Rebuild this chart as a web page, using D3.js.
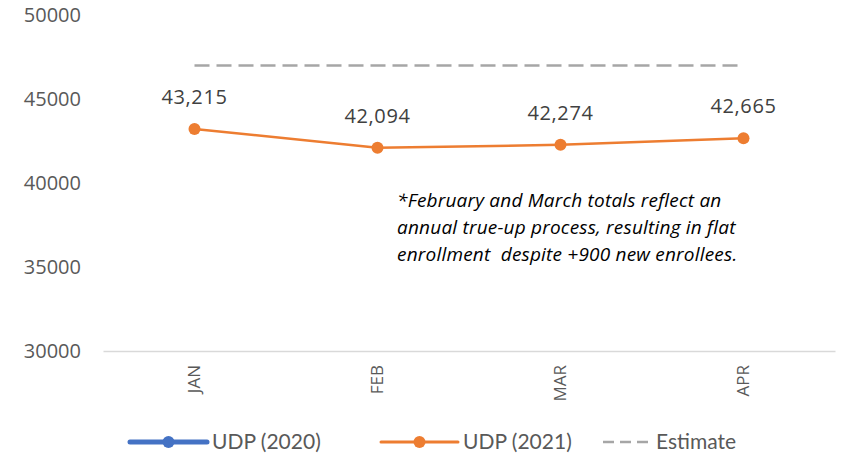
<!DOCTYPE html>
<html>
<head>
<meta charset="utf-8">
<script src="https://cdn.jsdelivr.net/npm/d3@7"></script>
<style>
  html, body { margin: 0; padding: 0; background: #fff; }
  svg { display: block; }
</style>
</head>
<body>
<svg id="chart" width="841" height="459"></svg>
<script>
// Monthly enrollment
const months = ["JAN", "FEB", "MAR", "APR"];
const udp2020 = [null, null, null, null];
const udp2021 = [43215, 42094, 42274, 42665];
const estimate = [47000, 47000, 47000, 47000];
const yTicks = [30000, 35000, 40000, 45000, 50000];
const note = [
  "*February and March totals reflect an",
  "annual true-up process, resulting in flat",
  "enrollment  despite +900 new enrollees."
];
const legendItems = [
  { name: "UDP (2020)", color: "#4472C4", width: 5, dash: null, marker: true },
  { name: "UDP (2021)", color: "#ED7D31", width: 3, dash: null, marker: true },
  { name: "Estimate", color: "#A6A6A6", width: 2.5, dash: "11,6", marker: false }
];

const svg = d3.select("#chart");
const margin = { left: 103, right: 6, top: 15, bottom: 108 };
const W = 841, H = 459;

const x = d3.scaleBand().domain(months).range([margin.left, W - margin.right]);
const y = d3.scaleLinear().domain([30000, 50000]).range([H - margin.bottom, margin.top]);
const cx = m => x(m) + x.bandwidth() / 2;

// y axis labels (no gridlines, no axis line)
const yAxis = svg.append("g")
  .attr("transform", `translate(${margin.left - 22},0)`)
  .call(d3.axisLeft(y).tickValues(yTicks).tickFormat(d3.format("d")).tickSize(0).tickPadding(0));
yAxis.select(".domain").remove();
yAxis.selectAll("text")
  .attr("font-family", "'Open Sans', sans-serif")
  .attr("font-size", 20)
  .attr("fill", "#595959");

// category axis
const xAxis = svg.append("g")
  .attr("transform", `translate(0,${y(30000)})`)
  .call(d3.axisBottom(x).tickSize(0).tickPadding(0));
xAxis.select(".domain").attr("stroke", "#D9D9D9").attr("stroke-width", 1.5);
xAxis.selectAll("text")
  .attr("font-family", "'Open Sans', sans-serif")
  .attr("font-size", 17)
  .attr("fill", "#595959")
  .attr("text-anchor", "end")
  .attr("dy", "0.35em")
  .attr("transform", "translate(0,14) rotate(-90)");

// estimate line
const line = d3.line()
  .defined(d => d.v != null)
  .x(d => cx(d.m))
  .y(d => y(d.v));

svg.append("path")
  .datum(months.map((m, i) => ({ m, v: estimate[i] })))
  .attr("d", line)
  .attr("fill", "none")
  .attr("stroke", "#A6A6A6")
  .attr("stroke-width", 2.5)
  .attr("stroke-dasharray", "15,7");

// UDP 2020 (no values yet)
const s2020 = months.map((m, i) => ({ m, v: udp2020[i] }));
svg.append("path")
  .datum(s2020)
  .attr("d", line)
  .attr("fill", "none")
  .attr("stroke", "#4472C4")
  .attr("stroke-width", 3);

// UDP 2021
const s2021 = months.map((m, i) => ({ m, v: udp2021[i] }));
svg.append("path")
  .datum(s2021)
  .attr("d", line)
  .attr("fill", "none")
  .attr("stroke", "#ED7D31")
  .attr("stroke-width", 2.5);

svg.append("g").selectAll("circle")
  .data(s2021.filter(d => d.v != null))
  .join("circle")
  .attr("cx", d => cx(d.m))
  .attr("cy", d => y(d.v))
  .attr("r", 6)
  .attr("fill", "#ED7D31");

svg.append("g").selectAll("text")
  .data(s2021.filter(d => d.v != null))
  .join("text")
  .attr("x", d => cx(d.m))
  .attr("y", d => y(d.v) - 25)
  .attr("text-anchor", "middle")
  .attr("font-family", "'Open Sans', sans-serif")
  .attr("font-size", 20)
  .attr("letter-spacing", 0.6)
  .attr("fill", "#404040")
  .text(d => d3.format(",")(d.v));

// annotation
svg.append("text")
  .attr("font-family", "'Open Sans', sans-serif")
  .attr("font-style", "italic")
  .attr("font-size", 19)
  .attr("letter-spacing", 0.2)
  .attr("fill", "#000")
  .selectAll("tspan")
  .data(note)
  .join("tspan")
  .attr("x", 397)
  .attr("y", (d, i) => 207 + i * 27)
  .style("white-space", "pre")
  .text(d => d);

// legend
const legendX = [130, 381, 603];
const lg = svg.append("g").attr("transform", `translate(0,442)`);
legendItems.forEach((it, i) => {
  const g = lg.append("g").attr("transform", `translate(${legendX[i]},0)`);
  const len = it.marker ? 77 : 48;
  g.append("line")
    .attr("x1", 0).attr("x2", len).attr("y1", 0).attr("y2", 0)
    .attr("stroke", it.color)
    .attr("stroke-width", it.width)
    .attr("stroke-linecap", it.marker ? "round" : "butt")
    .attr("stroke-dasharray", it.dash);
  if (it.marker) {
    g.append("circle").attr("cx", len / 2).attr("cy", 0).attr("r", 6).attr("fill", it.color);
  }
  g.append("text")
    .attr("x", len + 5)
    .attr("y", 0)
    .attr("dy", "0.35em")
    .attr("font-family", "Lato, sans-serif")
    .attr("font-size", 21)
    .attr("fill", "#595959")
    .text(it.name);
});
</script>
</body>
</html>
